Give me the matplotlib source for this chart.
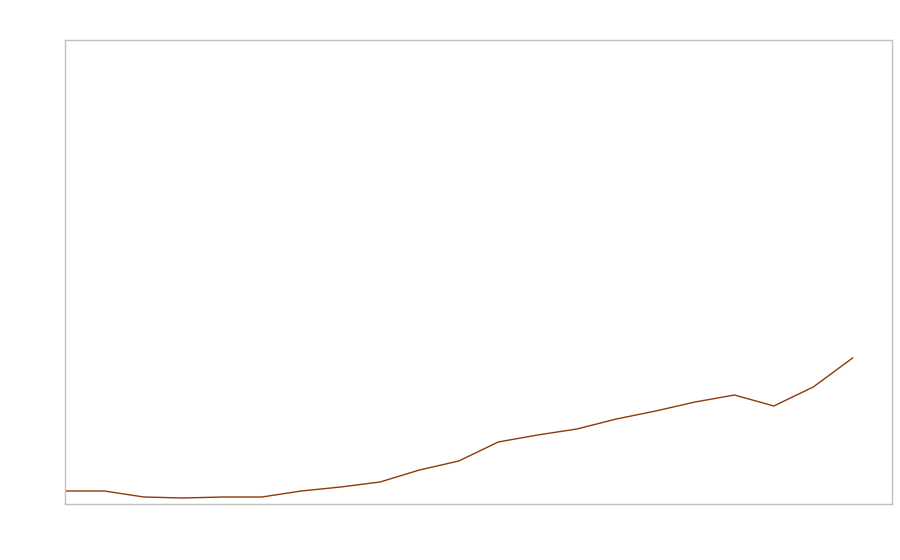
import numpy as np
import matplotlib.pyplot as plt

# values (arbitrary units, axis runs 0..464)
x_index = list(range(21))
values = [13, 13, 7, 6, 7, 7, 13, 17, 22, 34, 43, 62, 69, 75, 85, 93, 102, 109, 98, 117, 146]

fig = plt.figure(figsize=(9, 5.6), dpi=100)
ax = fig.add_axes([65 / 900, 56 / 560, 827 / 900, 464 / 560])

ax.plot(x_index, values, color='#8c3a0c', linewidth=1)

ax.set_xlim(0, 21)
ax.set_ylim(0, 464)
ax.set_xticks([])
ax.set_yticks([])
for s in ax.spines.values():
    s.set_color('#c0c0c0')
    s.set_linewidth(1)

fig.savefig('out.png', dpi=100)
